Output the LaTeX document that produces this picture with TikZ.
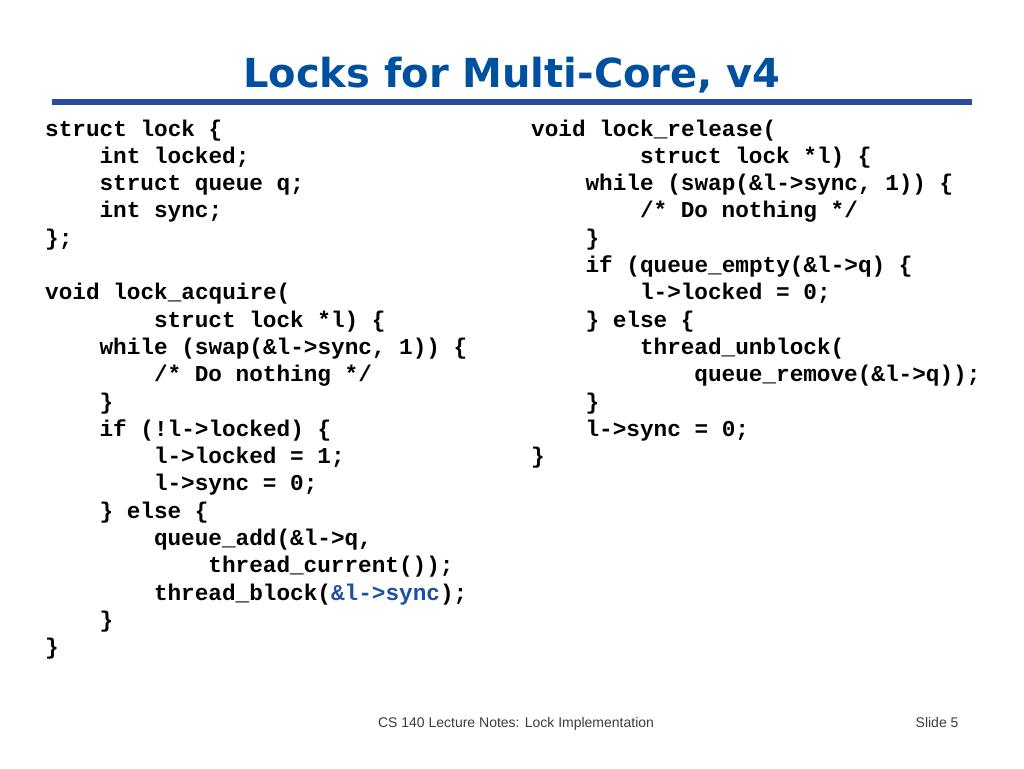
\documentclass[tikz,border=0pt]{standalone}
\usepackage{fontspec}
\setmainfont{Liberation Sans}
\newfontfamily\codef{Liberation Mono}[BoldFont={Liberation Mono Bold}]
\newfontfamily\titlef{DejaVu Sans}[BoldFont={DejaVu Sans Bold}]
\definecolor{ttl}{RGB}{0,80,160}
\definecolor{rule}{RGB}{43,75,160}
\definecolor{hl}{RGB}{30,80,160}
\definecolor{foot}{RGB}{60,60,60}
\tikzset{code/.style={anchor=base west,inner sep=0pt,font=\codef\bfseries\fontsize{22.7}{27.3}\selectfont}}
\newcommand\cx[1]{\fpeval{#1*13.6}}
\begin{document}
\begin{tikzpicture}[x=1pt,y=1pt]
\fill[white] (0,0) rectangle (1024,-768);
\useasboundingbox (0,0) rectangle (1024,-768);
\node[text=ttl,font=\titlef\bfseries\fontsize{40}{48}\selectfont,anchor=base] (title) at (512,-87) {Locks for Multi-Core, v4};
\fill[rule] (52,-99) rectangle (972,-105);
\def\L{45}\def\R{531}
% left column
\node[code] (a1) at (\L,-136) {struct lock \{};
\node[code] (a2) at (\L+54.4,-163.3) {int locked;};
\node[code] (a3) at (\L+54.4,-190.6) {struct queue q;};
\node[code] (a4) at (\L+54.4,-217.9) {int sync;};
\node[code] (a5) at (\L,-245.2) {\};};
\node[code] (a7) at (\L,-299.8) {void lock\_acquire(};
\node[code] (a8) at (\L+108.8,-327.1) {struct lock *l) \{};
\node[code] (a9) at (\L+54.4,-354.4) {while (swap(\&l->sync, 1)) \{};
\node[code] (a10) at (\L+108.8,-381.7) {/* Do nothing */};
\node[code] (a11) at (\L+54.4,-409) {\}};
\node[code] (a12) at (\L+54.4,-436.3) {if (!l->locked) \{};
\node[code] (a13) at (\L+108.8,-463.6) {l->locked = 1;};
\node[code] (a14) at (\L+108.8,-490.9) {l->sync = 0;};
\node[code] (a15) at (\L+54.4,-518.2) {\} else \{};
\node[code] (a16) at (\L+108.8,-545.5) {queue\_add(\&l->q,};
\node[code] (a17) at (\L+163.2,-572.8) {thread\_current());};
\node[code] (a18) at (\L+108.8,-600.1) {thread\_block(\textcolor{hl}{\&l->sync});};
\node[code] (a19) at (\L+54.4,-627.4) {\}};
\node[code] (a20) at (\L,-654.7) {\}};
% right column
\node[code] (b1) at (\R,-136) {void lock\_release(};
\node[code] (b2) at (\R+108.8,-163.3) {struct lock *l) \{};
\node[code] (b3) at (\R+54.4,-190.6) {while (swap(\&l->sync, 1)) \{};
\node[code] (b4) at (\R+108.8,-217.9) {/* Do nothing */};
\node[code] (b5) at (\R+54.4,-245.2) {\}};
\node[code] (b6) at (\R+54.4,-272.5) {if (queue\_empty(\&l->q) \{};
\node[code] (b7) at (\R+108.8,-299.8) {l->locked = 0;};
\node[code] (b8) at (\R+54.4,-327.1) {\} else \{};
\node[code] (b9) at (\R+108.8,-354.4) {thread\_unblock(};
\node[code] (b10) at (\R+163.2,-381.7) {queue\_remove(\&l->q));};
\node[code] (b11) at (\R+54.4,-409) {\}};
\node[code] (b12) at (\R+54.4,-436.3) {l->sync = 0;};
\node[code] (b13) at (\R,-463.6) {\}};
% footer
\node[text=foot,font=\fontsize{14}{16}\selectfont,anchor=base] (foot) at (516,-727) {CS 140 Lecture Notes: Lock Implementation};
\node[text=foot,font=\fontsize{14}{16}\selectfont,anchor=base east] (slide) at (962,-727) {Slide 5};
\end{tikzpicture}
\end{document}
